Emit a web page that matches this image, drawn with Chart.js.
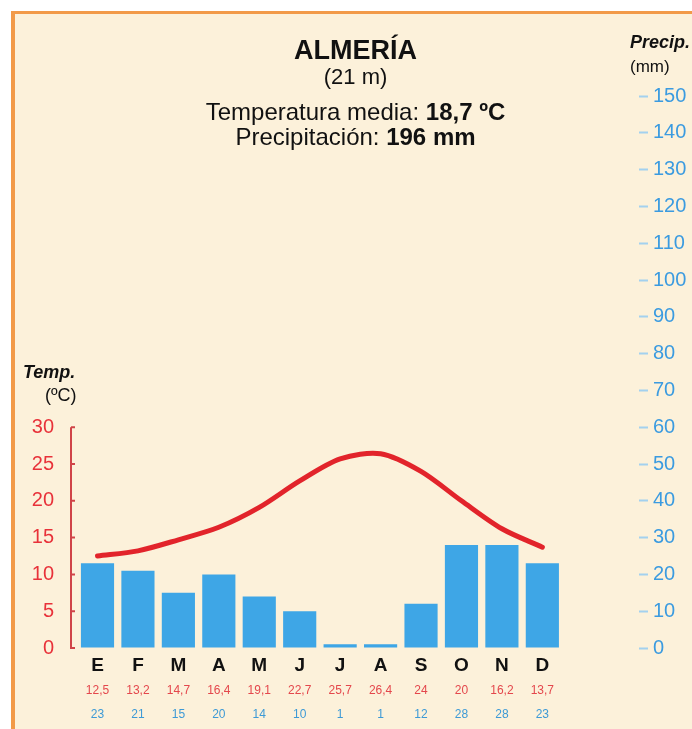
<!DOCTYPE html>
<html>
<head>
<meta charset="utf-8">
<script src="https://cdn.jsdelivr.net/npm/chart.js@4/dist/chart.umd.min.js"></script>
<style>
  html, body { margin: 0; padding: 0; background: #fff; }
  body { width: 692px; height: 729px; position: relative; overflow: hidden; font-family: "Liberation Sans", Arial, sans-serif; }
  #frame { position: absolute; left: 11px; top: 11px; right: 0; bottom: 0; background: #fcf1da; border-left: 4px solid #f29a48; border-top: 3px solid #f29a48; }
  #climo { position: absolute; left: 0; top: 0; }
  .t { position: absolute; color: #111; white-space: nowrap; }
  .c { left: 0; width: 711px; text-align: center; }
</style>
</head>
<body>
<div id="frame"></div>
<canvas id="climo" width="692" height="729"></canvas>

<div class="t c" style="top:37px;font-size:27px;line-height:27px;font-weight:bold">ALMERÍA</div>
<div class="t c" style="top:66px;font-size:22px;line-height:22px">(21 m)</div>
<div class="t c" style="top:100px;font-size:24px;line-height:24px">Temperatura media: <b>18,7 ºC</b></div>
<div class="t c" style="top:125px;font-size:24px;line-height:24px">Precipitación: <b>196 mm</b></div>
<div class="t" style="left:630px;top:33px;font-size:18px;line-height:18px;font-weight:bold;font-style:italic">Precip.</div>
<div class="t" style="left:630px;top:58px;font-size:17px;line-height:17px">(mm)</div>
<div class="t" style="left:23px;top:363px;font-size:18px;line-height:18px;font-weight:bold;font-style:italic">Temp.</div>
<div class="t" style="left:45px;top:386px;font-size:18px;line-height:18px">(ºC)</div>

<script>
// datos climáticos de Almería
const months = ['E', 'F', 'M', 'A', 'M', 'J', 'J', 'A', 'S', 'O', 'N', 'D'];
const tempC = [12.5, 13.2, 14.7, 16.4, 19.1, 22.7, 25.7, 26.4, 24, 20, 16.2, 13.7];
const precipMm = [23, 21, 15, 20, 14, 10, 1, 1, 12, 28, 28, 23];

Chart.defaults.font.family = '"Liberation Sans", Arial, sans-serif';

// rango del eje x (índices de mes) y escalas: 1 ºC = 2 mm
const xMin = -0.68, xMax = 13.39;
const isMonth = v => Number.isInteger(v) && v >= 0 && v < 12;
const comma = v => String(v).replace('.', ',');

// eje de temperatura: línea roja solo de 0 a 30
const tempAxisLine = {
  id: 'tempAxisLine',
  beforeDatasetsDraw(chart) {
    const s = chart.scales.yT;
    const ctx = chart.ctx;
    const x = s.right + 1;
    ctx.save();
    ctx.strokeStyle = '#d04448';
    ctx.lineWidth = 2;
    ctx.beginPath();
    ctx.moveTo(x, s.getPixelForValue(0) + 1);
    ctx.lineTo(x, s.getPixelForValue(30));
    for (const t of s.ticks) {
      if (t.value > 30) continue;
      const y = s.getPixelForValue(t.value);
      ctx.moveTo(x, y);
      ctx.lineTo(x + 4, y);
    }
    ctx.stroke();
    ctx.restore();
  }
};

function rowAxis(color, size, weight, pad, height, fmt) {
  return {
    type: 'linear',
    position: 'bottom',
    offset: false,
    min: xMin,
    max: xMax,
    grid: { display: false, drawTicks: false },
    border: { display: false },
    ticks: {
      stepSize: 1,
      includeBounds: false,
      autoSkip: false,
      maxRotation: 0,
      padding: pad,
      color: color,
      font: { size: size, weight: weight },
      callback: v => isMonth(v) ? fmt(v) : null
    },
    afterFit: s => { s.height = height; }
  };
}

new Chart(document.getElementById('climo'), {
  data: {
    datasets: [
      {
        type: 'line',
        label: 'Temperatura',
        data: tempC.map((v, i) => ({ x: i, y: v })),
        yAxisID: 'yT',
        borderColor: '#e2242b',
        borderWidth: 5,
        pointRadius: 0,
        tension: 0.3,
        borderCapStyle: 'round',
        order: 1
      },
      {
        type: 'bar',
        label: 'Precipitación',
        data: precipMm.map((v, i) => ({ x: i, y: v })),
        yAxisID: 'yP',
        backgroundColor: '#3ea6e6',
        barPercentage: 0.82,
        categoryPercentage: 1,
        order: 2
      }
    ]
  },
  options: {
    responsive: false,
    animation: false,
    layout: { padding: { top: 96, left: 0, right: 0, bottom: 0 } },
    plugins: {
      legend: { display: false },
      tooltip: { enabled: false }
    },
    scales: {
      x: rowAxis('#111', 19, 'bold', 6, 30, v => months[v]),
      xT: rowAxis('#e4474c', 12, 'normal', 5, 24, v => comma(tempC[v])),
      xP: rowAxis('#3d9ad6', 12, 'normal', 5, 27, v => String(precipMm[v])),
      yT: {
        type: 'linear',
        position: 'left',
        min: 0,
        max: 75,
        grid: { display: false, drawTicks: false },
        border: { display: false },
        ticks: {
          stepSize: 5,
          autoSkip: false,
          padding: 16,
          color: '#e8323a',
          font: { size: 20 },
          callback: v => v <= 30 ? v : null
        },
        afterFit: s => { s.width = 70; }
      },
      yP: {
        type: 'linear',
        position: 'right',
        min: 0,
        max: 150,
        grid: { display: true, drawOnChartArea: false, drawTicks: true, tickLength: 9, tickWidth: 2, tickColor: '#a3d1ef' },
        border: { display: false },
        ticks: {
          stepSize: 10,
          autoSkip: false,
          padding: 5,
          color: '#3b9be0',
          font: { size: 20 }
        },
        afterFit: s => { s.width = 53; }
      }
    }
  },
  plugins: [tempAxisLine]
});
</script>
</body>
</html>
